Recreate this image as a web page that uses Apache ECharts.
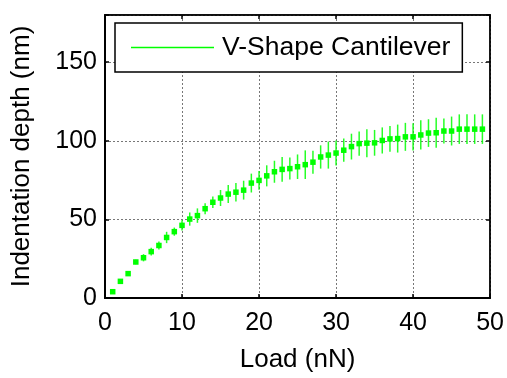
<!DOCTYPE html>
<html>
<head>
<meta charset="utf-8">
<script src="https://cdn.jsdelivr.net/npm/echarts@6/dist/echarts.min.js"></script>
<style>
html,body{margin:0;padding:0;background:#fff;}
#chart{width:507px;height:378px;}
</style>
</head>
<body>
<div id="chart"></div>
<script>
const seriesName = 'V-Shape Cantilever';
const loadValues = [1,2,3,4,5,6,7,8,9,10,11,12,13,14,15,16,17,18,19,20,21,22,23,24,25,26,27,28,29,30,31,32,33,34,35,36,37,38,39,40,41,42,43,44,45,46,47,48,49];
const depthValues = [4.0,10.6,15.5,22.9,25.6,29.5,33.4,38.5,42.2,46.2,50.2,52.4,56.8,60.9,63.6,66.1,67.3,68.6,73.1,74.8,77.7,80.3,81.8,82.3,83.5,84.8,86.4,89.7,90.9,92.2,94.0,96.3,98.2,98.5,98.7,100.2,101.2,101.4,102.5,102.5,103.7,104.9,105.1,106.2,106.2,107.4,107.4,107.4,107.4];
const depthErrors = [0.5,0.6,1.5,1.5,2.3,2.5,2.6,3.6,2.6,3.3,4.2,4.6,3.5,3.7,5.1,5.7,5.9,6.0,6.0,6.0,6.7,7.0,7.9,7.0,7.8,9.1,7.3,7.4,8.6,8.0,7.4,8.2,7.7,8.9,8.2,8.3,8.2,8.9,8.9,8.7,9.3,8.8,9.5,7.9,9.2,9.4,9.4,9.4,9.4];
const xTickValues = [0,10,20,30,40,50];
const yTickValues = [0,50,100,150];
const xLabel = 'Load (nN)';
const yLabel = 'Indentation depth (nm)';

const FONT = '"Liberation Sans", Arial, sans-serif';
const GREEN = '#00ff00';

const errData = loadValues.map((x, i) => [x, depthValues[i], depthErrors[i]]);
const ptData = loadValues.map((x, i) => [x, depthValues[i]]);

const chart = echarts.init(document.getElementById('chart'), null, {renderer: 'canvas'});

const gridLine = {show: true, lineStyle: {color: '#777', width: 1, type: [2, 2]}};

chart.setOption({
  animation: false,
  backgroundColor: '#fff',
  textStyle: {fontFamily: FONT},
  grid: {left: 105, top: 15, right: 16, bottom: 71.5, show: true, borderColor: '#000', borderWidth: 1.5, containLabel: false},
  legend: {
    data: [{name: seriesName, icon: 'rect'}],
    left: 115, top: 23,
    orient: 'horizontal',
    itemWidth: 83, itemHeight: 1.5,
    itemGap: 0,
    padding: [11, 12, 11, 16],
    borderColor: '#000', borderWidth: 1.5,
    backgroundColor: '#fff',
    selectedMode: false,
    textStyle: {fontFamily: FONT, fontSize: 26.5, color: '#000', padding: [0, 0, 0, 3]}
  },
  xAxis: [{
    type: 'value', min: 0, max: 50, interval: 10, position: 'bottom',
    axisLine: {show: true, onZero: false, lineStyle: {color: '#000', width: 2}},
    axisTick: {show: true, inside: true, length: 4, lineStyle: {color: '#000', width: 1.5}},
    axisLabel: {fontFamily: FONT, fontSize: 25, color: '#000', margin: 13,
      formatter: v => xTickValues.includes(v) ? String(v) : ''},
    splitLine: gridLine,
    name: xLabel, nameLocation: 'middle', nameGap: 49,
    nameTextStyle: {fontFamily: FONT, fontSize: 26, color: '#000'}
  }, {
    type: 'value', min: 0, max: 50, interval: 10, position: 'top',
    axisLine: {show: true, onZero: false, lineStyle: {color: '#000', width: 1.5}},
    axisTick: {show: true, inside: true, length: 4, lineStyle: {color: '#000', width: 1.5}},
    axisLabel: {show: false}, splitLine: {show: false}
  }],
  yAxis: [{
    type: 'value', min: 0, max: 180, interval: 50, position: 'left',
    axisLine: {show: true, onZero: false, lineStyle: {color: '#000', width: 2}},
    axisTick: {show: true, inside: true, length: 4, lineStyle: {color: '#000', width: 1.5}},
    axisLabel: {fontFamily: FONT, fontSize: 25, color: '#000', margin: 8,
      formatter: v => yTickValues.includes(v) ? String(v) : ''},
    splitLine: gridLine,
    name: yLabel, nameLocation: 'middle', nameGap: 70, nameRotate: 90,
    nameTextStyle: {fontFamily: FONT, fontSize: 26, color: '#000'}
  }, {
    type: 'value', min: 0, max: 180, interval: 50, position: 'right',
    axisLine: {show: true, onZero: false, lineStyle: {color: '#000', width: 1.5}},
    axisTick: {show: true, inside: true, length: 4, lineStyle: {color: '#000', width: 1.5}},
    axisLabel: {show: false}, splitLine: {show: false}
  }],
  series: [{
    name: seriesName,
    type: 'custom',
    xAxisIndex: 0, yAxisIndex: 0,
    itemStyle: {color: GREEN},
    data: errData,
    encode: {x: 0, y: 1},
    z: 3,
    renderItem: function (params, api) {
      const x = api.value(0), y = api.value(1), e = api.value(2);
      const p1 = api.coord([x, y + e]);
      const p2 = api.coord([x, y - e]);
      return {
        type: 'line',
        shape: {x1: p1[0], y1: p1[1], x2: p2[0], y2: p2[1]},
        style: {stroke: GREEN, lineWidth: 1.5, opacity: 0.85}
      };
    }
  }, {
    name: seriesName + ' markers',
    type: 'scatter',
    xAxisIndex: 0, yAxisIndex: 0,
    symbol: 'rect', symbolSize: 5.5,
    itemStyle: {color: GREEN, opacity: 1},
    data: ptData,
    z: 4
  }]
});
</script>
</body>
</html>
